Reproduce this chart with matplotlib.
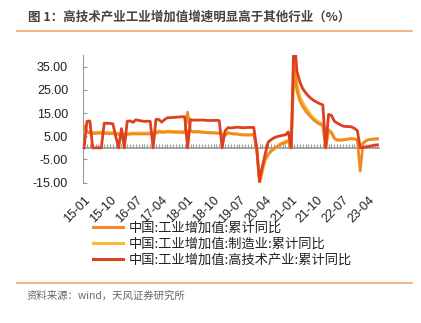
#!/usr/bin/env python3
"""
Line chart: cumulative YoY growth of industrial value added, 2015-01 to 2023-07.
"""
import numpy as np
import pandas as pd
import matplotlib
matplotlib.use('Agg')
import matplotlib.pyplot as plt
from matplotlib.lines import Line2D

CJK = ['Noto Sans CJK SC', 'DejaVu Sans']
NUM = ['Liberation Sans', 'DejaVu Sans']

months = pd.period_range('2015-01', '2023-07', freq='M')
tick_every = 9

title = '图 1：高技术产业工业增加值增速明显高于其他行业（%）'
source = '资料来源：wind，天风证券研究所'
names = ['中国:工业增加值:累计同比',
         '中国:工业增加值:制造业:累计同比',
         '中国:工业增加值:高技术产业:累计同比']

# None = no value for that month (line is joined across it)
industry = [
    9.4, 6.8, 6.4, 6.2, 6.2, 6.3, 6.3, 6.3, 6.2, 6.1, 6.1, 6.1,
    None, 5.4, 5.8, 5.8, 5.9, 6.0, 6.0, 6.0, 6.0, 6.0, 6.0, 6.0,
    None, 6.3, 6.8, 6.7, 6.7, 6.9, 6.8, 6.7, 6.7, 6.7, 6.6, 6.6,
    15.4, 7.2, 6.8, 6.9, 6.9, 6.7, 6.6, 6.5, 6.4, 6.4, 6.3, 6.2,
    None, 5.3, 6.5, 6.2, 6.0, 6.0, 5.8, 5.6, 5.6, 5.6, 5.6, 5.7,
    0.0, -13.5, -8.4, -4.9, -2.8, -1.3, -0.4, 0.4, 1.2, 1.8, 2.3, 2.8,
    0.0, 35.1, 24.5, 20.3, 17.8, 15.9, 14.4, 13.1, 11.8, 10.9, 10.1, 9.6,
    0.0, 7.5, 6.5, 4.0, 3.3, 3.4, 3.5, 3.6, 3.9, 4.0, 3.8, 3.6,
    -10.0, 2.0, 3.0, 3.6, 3.6, 3.8, 3.8,
]
manufacturing = [
    9.4, 7.1, 6.9, 6.7, 6.7, 6.8, 6.8, 6.7, 6.6, 6.6, 6.6, 6.6,
    None, 5.8, 6.2, 6.2, 6.3, 6.4, 6.4, 6.4, 6.4, 6.4, 6.4, 6.4,
    None, 6.9, 7.3, 7.2, 7.1, 7.2, 7.2, 7.1, 7.1, 7.1, 7.0, 7.0,
    None, 7.4, 7.0, 7.1, 7.1, 6.9, 6.8, 6.7, 6.6, 6.6, 6.5, 6.5,
    None, 5.6, 6.5, 6.2, 6.0, 6.0, 5.8, 5.6, 5.6, 5.5, 5.6, 6.0,
    0.0, -15.7, -10.2, -5.2, -3.0, -1.4, -0.6, 0.2, 1.6, 2.3, 2.8, 3.4,
    0.0, 39.5, 27.3, 22.2, 19.6, 17.4, 15.8, 13.8, 12.6, 11.6, 10.9, 10.3,
    0.0, 8.0, 6.8, 4.4, 3.5, 3.3, 3.4, 3.5, 3.8, 3.9, 3.7, 3.6,
    0.5, 2.2, 3.0, 3.6, 3.7, 3.9, 4.1,
]
hightech = [
    0.0, 11.4, 11.6, 0.0, 0.0, 0.0, 0.0, 10.6, 10.6, 10.5, 10.4, 5.0,
    0.0, 8.3, 0.0, 11.5, 11.6, 11.0, 12.1, 11.8, 11.6, 11.4, 11.5, 11.4,
    0.0, 12.3, 12.2, 11.1, 12.2, 13.0, 13.0, 13.1, 13.2, 13.3, 13.4, 13.4,
    0.0, 12.2, 11.9, 12.0, 11.9, 12.0, 11.9, 11.8, 11.8, 11.8, 11.9, 11.7,
    0.0, 7.3, 8.7, 8.6, 8.7, 8.9, 8.8, 8.7, 8.7, 8.8, 8.8, 8.8,
    0.0, -14.5, -8.0, -2.5, 2.5, 3.5, 4.3, 4.8, 5.1, 5.4, 5.6, 6.9,
    0.0, 49.3, 33.0, 28.5, 25.5, 23.8, 22.3, 21.2, 20.3, 19.6, 19.0, 18.5,
    0.0, 14.4, 14.0, 11.5, 10.7, 10.0, 9.4, 9.2, 9.2, 9.0, 8.4, 7.4,
    0.0, 0.2, 0.4, 0.6, 0.9, 1.2, 1.3,
]

colors = ['#F08A24', '#FDBA2C', '#DE3F1E']

fig = plt.figure(figsize=(4.21, 3.23), dpi=100)
ax = fig.add_axes([0.198, 0.4344, 0.702, 0.3953])

x = np.arange(len(months))
for vals, c, name, z in zip([industry, manufacturing, hightech], colors,
                            names, [3, 2, 4]):
    y = np.array([np.nan if v is None else v for v in vals], dtype=float)
    ok = ~np.isnan(y)
    ax.plot(x[ok], y[ok], color=c, lw=2.0, label=name, zorder=z,
            solid_joinstyle='round')

ymin, ymax = -15, 40
ax.set_ylim(ymin, ymax)
ax.set_xlim(-0.25, len(months) - 0.5)

ax.set_yticks([-15, -5, 5, 15, 25, 35])
ax.set_yticklabels([f'{v:.2f}' for v in [-15, -5, 5, 15, 25, 35]],
                   family=NUM, fontsize=9, color='#222222')
ax.tick_params(axis='y', direction='in', length=3, color='#999999', pad=11)

ticks = x[::tick_every]
ax.set_xticks(ticks)
ax.set_xticklabels([months[i].strftime('%y-%m') for i in ticks],
                   rotation=45, ha='right', rotation_mode='anchor',
                   family=NUM, fontsize=9, color='#222222')
ax.tick_params(axis='x', length=0, pad=8)

for s in ['top', 'right', 'bottom']:
    ax.spines[s].set_visible(False)
ax.spines['left'].set_color('#999999')

# zero line with monthly tick marks
zero = ax.secondary_xaxis((0 - ymin) / (ymax - ymin))
zero.set_xticks(x)
zero.tick_params(direction='in', length=3, color='#999999', width=0.8,
                 labelbottom=False)
zero.spines['bottom'].set_color('#999999')
zero.spines['bottom'].set_linewidth(1.2)

leg = fig.legend(loc='upper left', bbox_to_anchor=(93 / 421, 1 - 222 / 323),
                 bbox_transform=fig.transFigure, frameon=False,
                 prop={'family': CJK, 'size': 9.5}, handlelength=2.3,
                 handletextpad=0.4, labelspacing=0.22, borderpad=0,
                 borderaxespad=0)
for t in leg.get_texts():
    t.set_color('#222222')
for h in leg.get_lines():
    h.set_linewidth(2.2)

fig.text(28 / 421, 1 - 17 / 323, title, family=CJK, fontsize=9,
         weight='bold', color='#444444', va='center')
fig.add_artist(Line2D([17 / 421, 412 / 421], [1 - 31 / 323] * 2,
                      color='#F5A66E', lw=1.2, transform=fig.transFigure))
fig.add_artist(Line2D([17 / 421, 412 / 421], [1 - 283 / 323] * 2,
                      color='#F5A66E', lw=1.2, transform=fig.transFigure))
fig.text(27 / 421, 1 - 296 / 323, source, family=CJK, fontsize=7.5,
         color='#666666', va='center')

fig.savefig('out.png', dpi=100)
